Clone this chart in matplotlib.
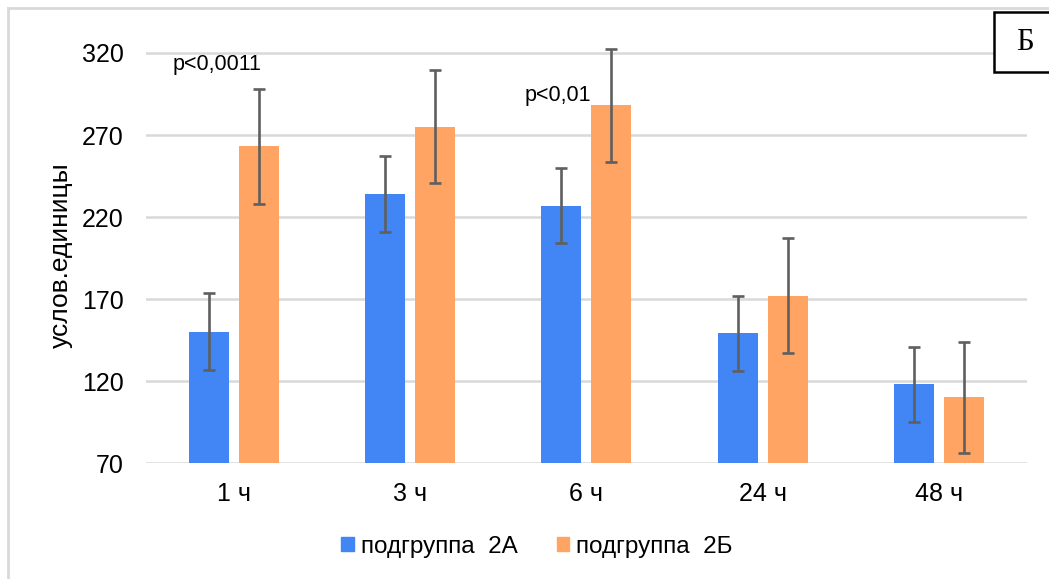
import matplotlib
matplotlib.use("Agg")
import matplotlib.pyplot as plt
import numpy as np
from matplotlib.patches import Rectangle
from matplotlib.lines import Line2D

plt.rcParams['font.family'] = ['Liberation Sans', 'DejaVu Sans']

categories = ["1 ч", "3 ч", "6 ч", "24 ч", "48 ч"]
group_a = [150, 234, 227, 149, 118]
group_a_err = [23.5, 23, 23, 23, 23]
group_b = [263, 275, 288, 172, 110]
group_b_err = [35, 34.5, 34.5, 35, 34]
series_names = ["подгруппа  2А", "подгруппа  2Б"]
yticks = [70, 120, 170, 220, 270, 320]
annotations = [(0, "p<0,0011", 313), (2, "p<0,01", 294)]

color_a = "#4285F4"
color_b = "#FFA463"
err_color = "#5F5F5F"
grid_color = "#D9D9D9"

fig = plt.figure(figsize=(10.49, 5.79), dpi=100)
ax = fig.add_axes([0.139, 0.2003, 0.840, 0.7365])

x = np.arange(len(categories))
offset = 0.142
width = 0.227

ax.bar(x - offset, group_a, width, color=color_a, zorder=2, label=series_names[0])
ax.bar(x + offset, group_b, width, color=color_b, zorder=2, label=series_names[1])
err_kw = dict(fmt="none", ecolor=err_color, elinewidth=1.9, capsize=4.5, capthick=1.9,
              zorder=3, clip_on=False)
ax.errorbar(x - offset, group_a, yerr=group_a_err, **err_kw)
ax.errorbar(x + offset, group_b, yerr=group_b_err, **err_kw)

ax.set_xlim(-0.5, len(categories) - 0.5)
ax.set_ylim(70, 330)
ax.set_yticks(yticks)
ax.set_xticks(x)
ax.set_xticklabels(categories)
for yv in yticks:
    ax.axhline(yv, color=grid_color, linewidth=1.8, zorder=1)
for s in ax.spines.values():
    s.set_visible(False)
ax.tick_params(axis="both", length=0, labelsize=18, colors="#000000")
ax.tick_params(axis="y", pad=16)
ax.tick_params(axis="x", pad=14)

fig.text(61 / 1049, 1 - 255 / 579, "услов.единицы", fontsize=19, rotation=90,
         ha="center", va="center")

for idx, txt, yv in annotations:
    ax.text(x[idx] - 0.35, yv, txt, fontsize=15.5, ha="left", va="center")

handles = [Rectangle((0, 0), 1, 1, color=color_a), Rectangle((0, 0), 1, 1, color=color_b)]
fig.legend(handles, series_names, loc="center", bbox_to_anchor=(537 / 1049, 1 - 547 / 579),
           ncol=2, frameon=False, fontsize=17.5, handlelength=0.5, handleheight=0.5,
           handletextpad=0.3, columnspacing=1.6)

# outer chart frame
fig.add_artist(Line2D([8 / 1049, 8 / 1049], [0, 1 - 8 / 579], transform=fig.transFigure,
                      color=grid_color, linewidth=2))
fig.add_artist(Line2D([8 / 1049, 1], [1 - 8 / 579, 1 - 8 / 579], transform=fig.transFigure,
                      color=grid_color, linewidth=2))

# panel letter box
fig.add_artist(Rectangle((994 / 1049, 1 - 72 / 579), 60 / 1049, 60 / 579,
                         transform=fig.transFigure, facecolor="white", edgecolor="black",
                         linewidth=1.8))
fig.text(1025 / 1049, 1 - 42 / 579, "Б", fontsize=22, family="Liberation Serif",
         ha="center", va="center")

fig.savefig("out.png", dpi=100)
